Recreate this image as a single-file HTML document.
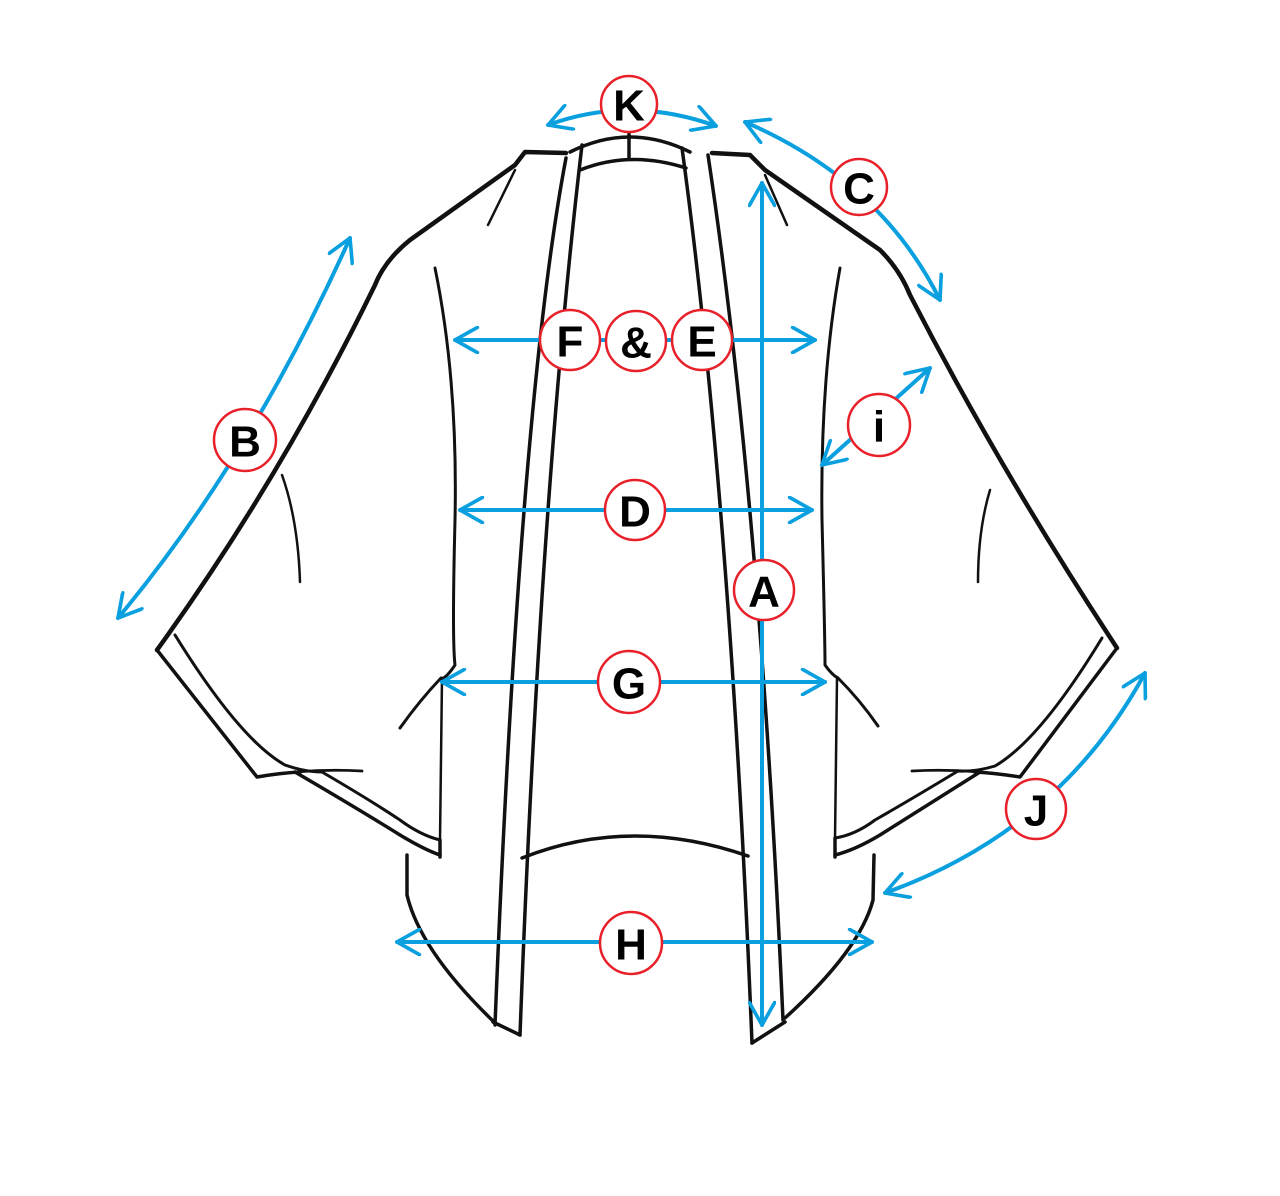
<!DOCTYPE html>
<html><head><style>
html,body{margin:0;padding:0;background:#fff;}
svg{display:block;}
text{font-family:"Liberation Sans",sans-serif;font-weight:bold;font-size:44px;text-anchor:middle;dominant-baseline:central;fill:#000;}
</style></head><body>
<svg width="1280" height="1196" viewBox="0 0 1280 1196" xmlns="http://www.w3.org/2000/svg">
<defs>
<marker id="ah" viewBox="0 0 20 20" refX="18" refY="10" markerWidth="7" markerHeight="7" orient="auto-start-reverse" markerUnits="strokeWidth">
<path d="M2 1 L18 10 L2 19" fill="none" stroke="#0aa0e0" stroke-width="2.6" stroke-linecap="round" stroke-linejoin="round"/>
</marker>
</defs>
<g fill="none" stroke="#111" stroke-width="3.5" stroke-linecap="round" stroke-linejoin="round">
<path d="M570 152 Q630 122 690 152"/>
<path d="M580 170 Q630 150 686 168"/>
<path d="M629 134 L629 157"/>
<path d="M582 145 Q540 500 520 1035"/>
<path d="M566 158 Q520 400 495 1025"/>
<path d="M493 1022 L520 1035"/>
<path d="M682 148 Q730 500 752 1043"/>
<path d="M708 155 Q760 500 783 1020"/>
<path d="M752 1043 L785 1022"/>
<path d="M566 153 L525 152 L515 165 L410 240 Q385 260 375 285 Q280 480 157 650" stroke-width="4.5"/>
<path d="M515 170 L488 225" stroke-width="2.5"/>
<path d="M712 153 L750 155 L765 170 L880 250 Q900 270 910 295 Q1000 470 1117 648" stroke-width="4.5"/>
<path d="M765 175 L787 225" stroke-width="2.5"/>
<!-- left sleeve hem -->
<path d="M157 650 L257 777 Q280 773 300 772"/>
<path d="M257 777 Q310 768 362 771" stroke-width="2.8"/>
<path d="M295 772 Q360 810 400 835 Q425 850 440 855"/>
<path d="M175 635 Q240 740 285 765 Q305 772 322 772 Q370 800 400 820 Q420 835 440 840" stroke-width="3"/>
<path d="M440 840 L440 857"/>
<!-- right sleeve hem -->
<path d="M1117 648 L1020 777 Q995 773 975 772"/>
<path d="M1020 777 Q965 768 912 771" stroke-width="2.8"/>
<path d="M980 772 Q920 810 880 835 Q855 850 835 855"/>
<path d="M1102 638 Q1040 740 995 766 Q975 772 958 771 Q910 800 875 820 Q855 835 835 838" stroke-width="3"/>
<path d="M835 838 L835 857"/>
<path d="M282 475 Q298 520 300 582" stroke-width="2.5"/>
<path d="M990 490 Q978 530 978 582" stroke-width="2.5"/>
<path d="M435 268 Q458 380 455 520 Q452 640 455 665 Q445 680 441 678 Q420 700 400 728" stroke-width="3"/>
<path d="M840 268 Q820 380 822 520 Q825 640 825 665 Q832 675 838 678 Q860 700 878 726" stroke-width="3"/>
<path d="M442 678 L440 840" stroke-width="2.5"/>
<path d="M837 678 L835 840" stroke-width="2.5"/>
<path d="M407 855 L407 895 Q420 950 492 1020"/>
<path d="M874 855 L873 900 Q860 950 785 1018"/>
<path d="M522 858 Q630 815 748 856"/>
</g>
<g fill="none" stroke="#0aa0e0" stroke-width="4" stroke-linecap="round" marker-start="url(#ah)" marker-end="url(#ah)">
<path d="M548 125 Q630 95 716 126"/>
<path d="M745 122 Q880 180 940 300"/>
<path d="M762 183 L762 1025"/>
<path d="M118 618 Q250 460 350 238"/>
<path d="M455 340 L815 340"/>
<path d="M822 465 L930 368"/>
<path d="M460 510 L812 510"/>
<path d="M442 682 L825 682"/>
<path d="M397 942 L872 942"/>
<path d="M885 893 Q1060 830 1145 673"/>
</g>
<g fill="#fff" stroke="#e8202a" stroke-width="2.5">
<circle cx="629" cy="104" r="28"/>
<circle cx="859" cy="187" r="28"/>
<circle cx="245" cy="440" r="31"/>
<circle cx="570" cy="340" r="30"/>
<circle cx="636" cy="341" r="30"/>
<circle cx="702" cy="340" r="30"/>
<circle cx="879" cy="425" r="31"/>
<circle cx="635" cy="510" r="30"/>
<circle cx="764" cy="590" r="30"/>
<circle cx="629" cy="682" r="31"/>
<circle cx="631" cy="943" r="31"/>
<circle cx="1036" cy="809" r="30"/>
</g>
<text x="629" y="106">K</text>
<text x="859" y="189">C</text>
<text x="245" y="442">B</text>
<text x="570" y="342">F</text>
<text x="636" y="343">&amp;</text>
<text x="702" y="342">E</text>
<text x="879" y="427">i</text>
<text x="635" y="512">D</text>
<text x="764" y="592">A</text>
<text x="629" y="684">G</text>
<text x="631" y="945">H</text>
<text x="1036" y="811">J</text>
</svg>
</body></html>
